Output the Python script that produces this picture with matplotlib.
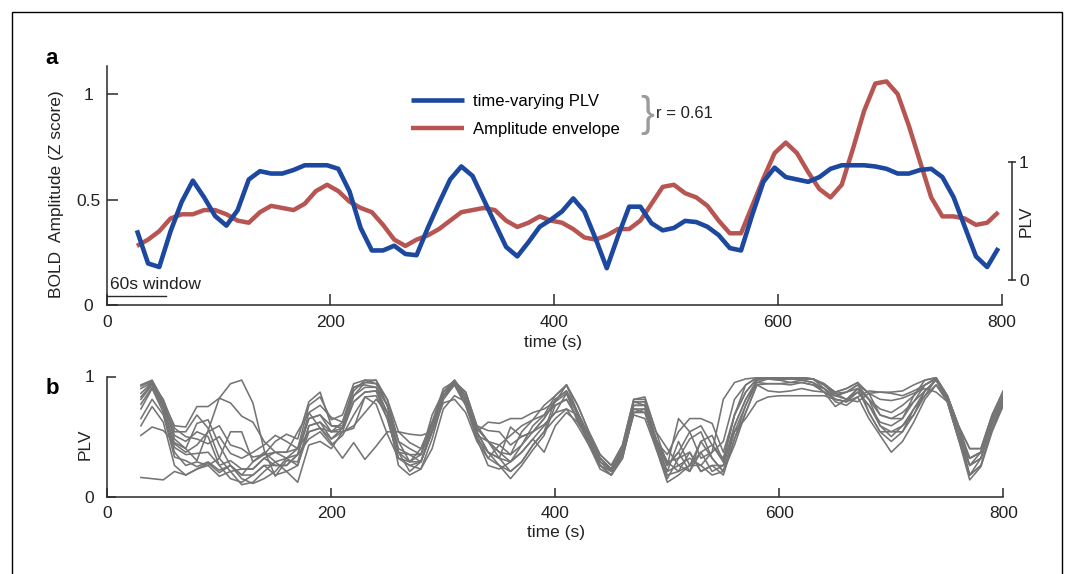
import numpy as np
import matplotlib
matplotlib.use("Agg")
import matplotlib.pyplot as plt
from matplotlib.patches import Rectangle

W, H = 1073, 574
FS = 12.5
plt.rcParams["font.family"] = ["Liberation Sans", "DejaVu Sans"]
plt.rcParams["font.size"] = FS

# window centres (s)
time_a = np.arange(27, 798, 10)
time_b = np.arange(30, 801, 10)

# panel a: time-varying PLV (right axis) and BOLD amplitude envelope (left axis)
plv = [0.42, 0.14, 0.11, 0.41, 0.66, 0.84, 0.70, 0.54, 0.46, 0.59,
       0.85, 0.92, 0.90, 0.90, 0.93, 0.97, 0.97, 0.97, 0.94, 0.75,
       0.44, 0.25, 0.25, 0.29, 0.22, 0.21, 0.44, 0.65, 0.85, 0.96,
       0.88, 0.68, 0.48, 0.28, 0.20, 0.32, 0.45, 0.51, 0.58, 0.69,
       0.58, 0.35, 0.10, 0.37, 0.62, 0.62, 0.48, 0.42, 0.44, 0.50,
       0.49, 0.45, 0.38, 0.27, 0.25, 0.55, 0.83, 0.95, 0.87, 0.85,
       0.83, 0.87, 0.94, 0.97, 0.97, 0.97, 0.96, 0.94, 0.90, 0.90,
       0.93, 0.94, 0.87, 0.70, 0.45, 0.20, 0.11, 0.27]
amp = [0.28, 0.31, 0.35, 0.41, 0.43, 0.43, 0.45, 0.45, 0.43, 0.40,
       0.39, 0.44, 0.47, 0.46, 0.45, 0.48, 0.54, 0.57, 0.54, 0.49,
       0.46, 0.44, 0.38, 0.31, 0.28, 0.31, 0.33, 0.36, 0.40, 0.44,
       0.45, 0.46, 0.45, 0.40, 0.37, 0.39, 0.42, 0.40, 0.39, 0.36,
       0.32, 0.31, 0.33, 0.36, 0.36, 0.40, 0.48, 0.56, 0.57, 0.53,
       0.51, 0.47, 0.40, 0.34, 0.34, 0.47, 0.60, 0.72, 0.77, 0.72,
       0.63, 0.55, 0.51, 0.57, 0.74, 0.92, 1.05, 1.06, 1.00, 0.85,
       0.68, 0.51, 0.42, 0.42, 0.41, 0.38, 0.39, 0.44]

# panel b: PLV for individual region pairs
plv_pairs = [
    [0.93, 0.97, 0.80, 0.48, 0.40, 0.61, 0.64, 0.43, 0.26, 0.18, 0.29, 0.37, 0.29, 0.32, 0.26, 0.59, 0.62, 0.54, 0.57, 0.84,
     0.95, 0.97, 0.76, 0.46, 0.40, 0.35, 0.59, 0.87, 0.97, 0.84, 0.57, 0.46, 0.37, 0.29, 0.37, 0.48, 0.59, 0.70, 0.86, 0.68,
     0.51, 0.32, 0.23, 0.40, 0.79, 0.79, 0.48, 0.26, 0.37, 0.54, 0.59, 0.43, 0.29, 0.68, 0.87, 0.98, 0.99, 0.99, 0.98, 0.98,
     0.98, 0.93, 0.84, 0.87, 0.93, 0.86, 0.87, 0.87, 0.88, 0.93, 0.97, 0.99, 0.84, 0.59, 0.40, 0.40, 0.68, 0.88],
    [0.92, 0.96, 0.79, 0.59, 0.58, 0.75, 0.75, 0.82, 0.78, 0.67, 0.62, 0.46, 0.37, 0.37, 0.40, 0.65, 0.68, 0.59, 0.59, 0.88,
     0.97, 0.94, 0.81, 0.54, 0.45, 0.40, 0.62, 0.90, 0.96, 0.87, 0.59, 0.55, 0.54, 0.43, 0.50, 0.54, 0.65, 0.79, 0.93, 0.76,
     0.54, 0.35, 0.26, 0.43, 0.81, 0.83, 0.54, 0.40, 0.26, 0.32, 0.26, 0.37, 0.46, 0.81, 0.93, 0.99, 0.99, 0.98, 0.99, 0.99,
     0.98, 0.94, 0.86, 0.81, 0.90, 0.81, 0.73, 0.70, 0.76, 0.84, 0.93, 0.98, 0.81, 0.54, 0.32, 0.37, 0.65, 0.84],
    [0.90, 0.95, 0.77, 0.54, 0.54, 0.68, 0.57, 0.32, 0.21, 0.23, 0.23, 0.32, 0.26, 0.26, 0.35, 0.70, 0.76, 0.66, 0.62, 0.91,
     0.93, 0.91, 0.70, 0.37, 0.35, 0.29, 0.54, 0.84, 0.95, 0.81, 0.54, 0.37, 0.32, 0.21, 0.29, 0.43, 0.54, 0.81, 0.88, 0.70,
     0.48, 0.29, 0.21, 0.37, 0.76, 0.76, 0.46, 0.21, 0.46, 0.26, 0.37, 0.21, 0.26, 0.59, 0.81, 0.97, 0.98, 0.97, 0.95, 0.97,
     0.95, 0.90, 0.81, 0.79, 0.87, 0.76, 0.62, 0.59, 0.65, 0.79, 0.88, 0.97, 0.79, 0.48, 0.26, 0.32, 0.61, 0.81],
    [0.86, 0.95, 0.76, 0.51, 0.46, 0.54, 0.50, 0.26, 0.15, 0.12, 0.18, 0.26, 0.18, 0.21, 0.26, 0.54, 0.57, 0.48, 0.54, 0.79,
     0.87, 0.88, 0.65, 0.32, 0.26, 0.23, 0.48, 0.81, 0.94, 0.79, 0.51, 0.32, 0.26, 0.15, 0.26, 0.39, 0.51, 0.76, 0.81, 0.65,
     0.43, 0.23, 0.18, 0.32, 0.70, 0.70, 0.43, 0.15, 0.32, 0.48, 0.54, 0.32, 0.21, 0.54, 0.76, 0.95, 0.98, 0.98, 0.98, 0.98,
     0.98, 0.93, 0.87, 0.90, 0.95, 0.70, 0.54, 0.46, 0.54, 0.73, 0.84, 0.98, 0.81, 0.54, 0.18, 0.26, 0.57, 0.79],
    [0.83, 0.94, 0.81, 0.57, 0.50, 0.48, 0.44, 0.50, 0.36, 0.32, 0.37, 0.43, 0.51, 0.46, 0.40, 0.76, 0.83, 0.64, 0.68, 0.94,
     0.97, 0.97, 0.81, 0.46, 0.29, 0.35, 0.59, 0.87, 0.97, 0.84, 0.57, 0.46, 0.43, 0.35, 0.43, 0.59, 0.68, 0.84, 0.93, 0.70,
     0.51, 0.32, 0.23, 0.40, 0.79, 0.79, 0.48, 0.29, 0.21, 0.37, 0.21, 0.26, 0.18, 0.48, 0.76, 0.97, 0.99, 0.99, 0.99, 0.99,
     0.98, 0.90, 0.79, 0.76, 0.83, 0.65, 0.51, 0.37, 0.46, 0.62, 0.81, 0.93, 0.79, 0.48, 0.14, 0.25, 0.54, 0.76],
    [0.81, 0.93, 0.75, 0.44, 0.37, 0.43, 0.54, 0.59, 0.43, 0.40, 0.33, 0.35, 0.46, 0.52, 0.48, 0.79, 0.87, 0.59, 0.57, 0.84,
     0.91, 0.91, 0.76, 0.37, 0.21, 0.29, 0.54, 0.84, 0.95, 0.81, 0.54, 0.62, 0.61, 0.65, 0.65, 0.70, 0.73, 0.79, 0.86, 0.62,
     0.48, 0.29, 0.21, 0.37, 0.73, 0.73, 0.46, 0.35, 0.54, 0.65, 0.65, 0.61, 0.37, 0.68, 0.87, 0.98, 0.98, 0.97, 0.98, 0.97,
     0.95, 0.87, 0.84, 0.81, 0.87, 0.76, 0.59, 0.50, 0.59, 0.68, 0.88, 0.97, 0.84, 0.59, 0.26, 0.37, 0.65, 0.84],
    [0.77, 0.91, 0.73, 0.41, 0.35, 0.36, 0.37, 0.26, 0.30, 0.23, 0.23, 0.32, 0.37, 0.32, 0.35, 0.48, 0.54, 0.43, 0.51, 0.68,
     0.83, 0.84, 0.65, 0.32, 0.29, 0.40, 0.62, 0.84, 0.93, 0.76, 0.48, 0.37, 0.26, 0.21, 0.29, 0.43, 0.54, 0.65, 0.73, 0.59,
     0.43, 0.26, 0.18, 0.35, 0.68, 0.65, 0.40, 0.12, 0.18, 0.26, 0.26, 0.18, 0.21, 0.43, 0.70, 0.93, 0.94, 0.94, 0.93, 0.95,
     0.93, 0.87, 0.81, 0.79, 0.90, 0.70, 0.54, 0.54, 0.54, 0.68, 0.84, 0.93, 0.81, 0.54, 0.18, 0.32, 0.61, 0.81],
    [0.73, 0.90, 0.70, 0.37, 0.26, 0.29, 0.26, 0.17, 0.21, 0.10, 0.12, 0.21, 0.29, 0.21, 0.12, 0.43, 0.46, 0.40, 0.54, 0.59,
     0.70, 0.81, 0.70, 0.26, 0.18, 0.23, 0.40, 0.73, 0.84, 0.79, 0.48, 0.26, 0.23, 0.29, 0.37, 0.48, 0.37, 0.59, 0.70, 0.62,
     0.46, 0.26, 0.21, 0.35, 0.73, 0.70, 0.43, 0.21, 0.26, 0.21, 0.46, 0.51, 0.29, 0.54, 0.65, 0.79, 0.83, 0.84, 0.84, 0.84,
     0.84, 0.84, 0.81, 0.79, 0.83, 0.88, 0.87, 0.86, 0.84, 0.88, 0.93, 0.98, 0.84, 0.59, 0.40, 0.40, 0.68, 0.88],
    [0.65, 0.81, 0.68, 0.33, 0.30, 0.25, 0.29, 0.22, 0.26, 0.18, 0.18, 0.26, 0.26, 0.26, 0.35, 0.65, 0.68, 0.54, 0.62, 0.91,
     0.95, 0.94, 0.76, 0.40, 0.35, 0.35, 0.68, 0.87, 0.95, 0.87, 0.59, 0.46, 0.37, 0.35, 0.54, 0.64, 0.76, 0.84, 0.93, 0.76,
     0.54, 0.35, 0.26, 0.43, 0.81, 0.81, 0.54, 0.26, 0.65, 0.54, 0.32, 0.37, 0.81, 0.95, 0.98, 0.99, 0.98, 0.98, 0.99, 0.98,
     0.98, 0.93, 0.86, 0.87, 0.93, 0.81, 0.68, 0.65, 0.70, 0.79, 0.93, 0.99, 0.84, 0.54, 0.32, 0.37, 0.65, 0.84],
    [0.59, 0.75, 0.62, 0.26, 0.18, 0.23, 0.26, 0.32, 0.54, 0.54, 0.29, 0.35, 0.37, 0.37, 0.54, 0.70, 0.57, 0.45, 0.32, 0.45,
     0.31, 0.42, 0.54, 0.54, 0.52, 0.51, 0.54, 0.78, 0.81, 0.70, 0.46, 0.32, 0.43, 0.51, 0.59, 0.64, 0.68, 0.76, 0.81, 0.65,
     0.48, 0.29, 0.23, 0.37, 0.76, 0.76, 0.48, 0.29, 0.32, 0.37, 0.21, 0.26, 0.26, 0.59, 0.81, 0.95, 0.94, 0.94, 0.95, 0.95,
     0.93, 0.90, 0.84, 0.87, 0.90, 0.81, 0.59, 0.54, 0.59, 0.73, 0.88, 0.97, 0.81, 0.54, 0.26, 0.32, 0.61, 0.79],
    [0.51, 0.58, 0.55, 0.45, 0.40, 0.30, 0.55, 0.82, 0.94, 0.97, 0.78, 0.39, 0.17, 0.30, 0.29, 0.59, 0.62, 0.48, 0.57, 0.79,
     0.87, 0.88, 0.70, 0.37, 0.29, 0.29, 0.59, 0.87, 0.94, 0.84, 0.54, 0.37, 0.32, 0.29, 0.43, 0.54, 0.65, 0.81, 0.88, 0.70,
     0.51, 0.32, 0.23, 0.40, 0.79, 0.76, 0.46, 0.26, 0.37, 0.21, 0.37, 0.43, 0.32, 0.68, 0.93, 0.99, 0.99, 0.99, 0.99, 0.99,
     0.98, 0.94, 0.87, 0.90, 0.95, 0.86, 0.68, 0.65, 0.65, 0.84, 0.97, 0.99, 0.84, 0.59, 0.32, 0.37, 0.65, 0.84],
    [0.16, 0.15, 0.14, 0.21, 0.18, 0.23, 0.28, 0.20, 0.26, 0.15, 0.11, 0.15, 0.21, 0.32, 0.40, 0.54, 0.57, 0.54, 0.54, 0.57,
     0.83, 0.77, 0.52, 0.32, 0.26, 0.29, 0.54, 0.81, 0.93, 0.76, 0.51, 0.46, 0.32, 0.58, 0.50, 0.54, 0.60, 0.70, 0.73, 0.68,
     0.46, 0.26, 0.18, 0.32, 0.70, 0.73, 0.40, 0.18, 0.21, 0.26, 0.46, 0.32, 0.21, 0.48, 0.70, 0.93, 0.88, 0.87, 0.88, 0.90,
     0.88, 0.87, 0.75, 0.81, 0.79, 0.86, 0.81, 0.80, 0.82, 0.86, 0.90, 0.87, 0.79, 0.48, 0.18, 0.26, 0.57, 0.76],
]

x_ticks = [0, 200, 400, 600, 800]

BLUE = "#1d489f"
RED = "#b75552"
GRAY = "#747474"
INK = "#2a2a2a"
TXT = "#222222"


def fx(x):
    return x / W


def fy(y):
    return 1 - y / H


def style_axis(ax, tick_len):
    for side in ("top", "right"):
        ax.spines[side].set_visible(False)
    for side in ("left", "bottom"):
        ax.spines[side].set_color(INK)
        ax.spines[side].set_linewidth(1.1)
    ax.tick_params(direction="in", length=tick_len, width=1.1, color=INK,
                   labelsize=FS, labelcolor=TXT)
    ax.tick_params(axis="y", pad=13)
    ax.tick_params(axis="x", pad=7)
    for lbl in ax.get_yticklabels():
        lbl.set_ha("center")
    ax.patch.set_visible(False)


fig = plt.figure(figsize=(W / 100, H / 100), dpi=100)

# ---- panel a ----
ax = fig.add_axes([fx(106.7), fy(305), (1001.7 - 106.7) / W, (305 - 66) / H])
ax.plot(time_a, amp, color=RED, lw=3.2, solid_capstyle="butt", label="Amplitude envelope")
ax.set_xlim(0, 800)
ax.set_ylim(0, 1.133)
ax.set_xticks(x_ticks)
ax.set_yticks([0, 0.5, 1])
ax.set_yticklabels(["0", "0.5", "1"])
style_axis(ax, 8)
ax.plot([0, 53], [0.043, 0.043], color=INK, lw=1.0, clip_on=False)
ax.text(3, 0.06, "60s window", fontsize=FS, color=TXT, va="bottom", ha="left")

ax2 = ax.twinx()
ax2.plot(time_a, plv, color=BLUE, lw=3.3, solid_capstyle="butt", label="time-varying PLV")
ax2.set_ylim(-0.211, 1.809)
for side in ("top", "left", "bottom"):
    ax2.spines[side].set_visible(False)
ax2.spines["right"].set_position(("outward", 7.5))
ax2.spines["right"].set_bounds(0, 1)
ax2.spines["right"].set_color(INK)
ax2.spines["right"].set_linewidth(1.1)
ax2.set_yticks([0, 1])
ax2.set_yticklabels(["0", "1"])
ax2.tick_params(axis="y", direction="inout", length=6, width=1.1, color=INK,
                labelsize=FS, labelcolor=TXT, pad=2)
ax2.patch.set_visible(False)

fig.text(fx(57), fy(194), "BOLD  Amplitude (Z score)", rotation=90,
         ha="center", va="center", fontsize=FS, color=TXT)
fig.text(fx(553), fy(343), "time (s)", ha="center", va="center", fontsize=FS, color=TXT)
fig.text(fx(1026), fy(221), "PLV", rotation=90, ha="center", va="center",
         fontsize=FS, color=TXT)

h_plv = ax2.get_lines()[0]
h_amp = ax.get_lines()[0]
fig.legend(handles=[h_plv, h_amp], loc="upper left", bbox_to_anchor=(fx(411), fy(94)),
           frameon=False, borderpad=0, borderaxespad=0, handlelength=3.2,
           handletextpad=0.5, labelspacing=0.8, fontsize=12)
fig.text(fx(647), fy(115), "}", fontsize=30, color="#9c9c9c", ha="center", va="center")
fig.text(fx(656), fy(113), "r = 0.61", fontsize=12, color=TXT, ha="left", va="center")

# ---- panel b ----
axb = fig.add_axes([fx(107.3), fy(496.7), (1003.3 - 107.3) / W, (496.7 - 376.5) / H])
for series in plv_pairs:
    axb.plot(time_b, series, color=GRAY, lw=1.15)
axb.set_xlim(0, 800)
axb.set_ylim(0, 1)
axb.set_xticks(x_ticks)
axb.set_yticks([0, 1])
axb.set_yticklabels(["0", "1"])
style_axis(axb, 6.5)
fig.text(fx(85), fy(444), "PLV", rotation=90, ha="center", va="center",
         fontsize=FS, color=TXT)
fig.text(fx(556), fy(532), "time (s)", ha="center", va="center", fontsize=FS, color=TXT)

# panel letters
fig.text(fx(52), fy(58), "a", fontsize=16, fontweight="bold", ha="center", va="center")
fig.text(fx(52), fy(388), "b", fontsize=16, fontweight="bold", ha="center", va="center")

# outer frame
fig.patches.append(Rectangle((fx(12), -0.02), fx(1062) - fx(12), fy(12) + 0.02,
                             transform=fig.transFigure, fill=False, lw=1.0,
                             edgecolor="black"))

fig.savefig("out.png", dpi=100)
